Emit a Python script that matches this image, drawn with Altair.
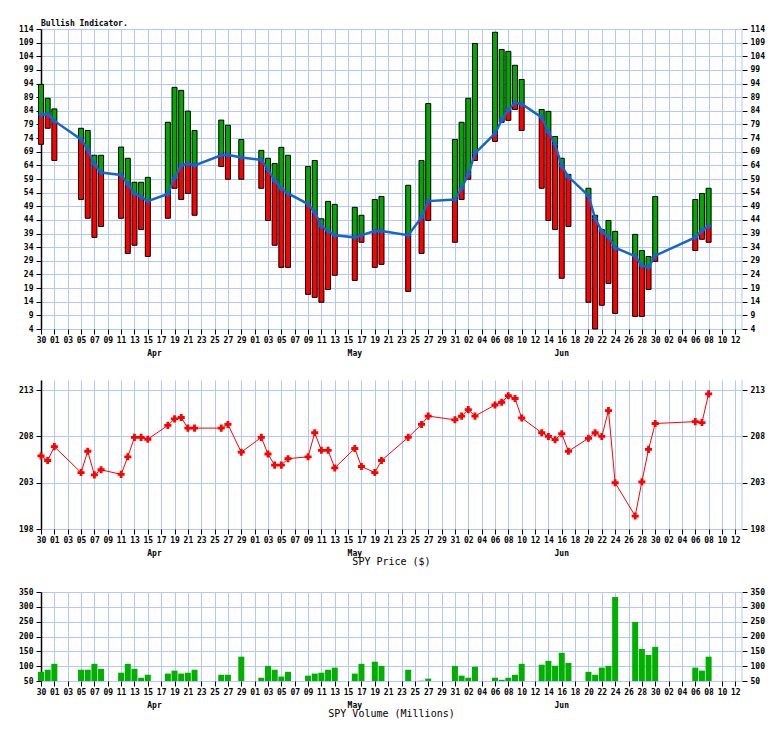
import altair as alt
import pandas as pd

# ---------------- data ----------------
start = "2016-03-30"
dates = [
    "2016-03-30", "2016-03-31", "2016-04-01", "2016-04-05", "2016-04-06", "2016-04-07", "2016-04-08",
    "2016-04-11", "2016-04-12", "2016-04-13", "2016-04-14", "2016-04-15", "2016-04-18", "2016-04-19",
    "2016-04-20", "2016-04-21", "2016-04-22", "2016-04-26", "2016-04-27", "2016-04-29",
    "2016-05-02", "2016-05-03", "2016-05-04", "2016-05-05", "2016-05-06", "2016-05-09", "2016-05-10",
    "2016-05-11", "2016-05-12", "2016-05-13", "2016-05-16", "2016-05-17", "2016-05-19", "2016-05-20",
    "2016-05-24", "2016-05-26", "2016-05-27", "2016-05-31",
    "2016-06-01", "2016-06-02", "2016-06-03", "2016-06-06", "2016-06-07", "2016-06-08", "2016-06-09",
    "2016-06-10", "2016-06-13", "2016-06-14", "2016-06-15", "2016-06-16", "2016-06-17", "2016-06-20",
    "2016-06-21", "2016-06-22", "2016-06-23", "2016-06-24", "2016-06-27", "2016-06-28", "2016-06-29",
    "2016-06-30", "2016-07-06", "2016-07-07", "2016-07-08",
]
ind_low = [71.7, 77.6, 65.8, 51.5, 44.6, 37.6, 41.6, 44.6, 31.7, 34.7, 40.5, 30.6, 44.6, 55.6,
           51.5, 53.7, 45.7, 63.6, 58.9, 58.9,
           55.6, 43.8, 34.7, 26.6, 26.6, 16.7, 15.6, 13.8, 18.5, 23.7, 21.8, 35.8, 26.6, 27.7,
           17.8, 31.7, 43.8, 35.8,
           51.5, 58.9, 65.8, 72.8, 79.8, 80.5, 84.5, 76.8, 55.6, 43.8, 40.5, 22.6, 41.6, 13.8,
           4.0, 12.7, 20.7, 9.7, 8.6, 8.6, 18.5, 28.8, 32.8, 36.9, 35.8]
ind_mid = [82.5, 82.8, 80.3, 73.5, 69.9, 64.4, 61.4, 60.5, 57.2, 53.7, 52.5, 50.9, 53.5, 59.5,
           63.9, 64.7, 64.0, 67.7, 67.9, 66.9,
           66.0, 62.5, 58.4, 55.6, 53.7, 49.8, 46.8, 41.8, 39.9, 38.4, 37.6, 38.4, 39.9, 39.9,
           38.4, 44.9, 50.9, 51.5,
           55.6, 60.7, 68.4, 75.7, 80.6, 84.3, 87.0, 86.5, 81.6, 76.3, 71.7, 63.8, 59.8, 52.9,
           44.6, 39.8, 37.8, 33.8, 30.7, 27.3, 26.6, 30.9, 37.6, 40.0, 41.8]
ind_high = [93.7, 88.6, 84.7, 77.6, 76.8, 67.7, 67.7, 70.7, 66.6, 57.8, 57.8, 59.6, 79.8, 92.6,
            91.5, 83.9, 76.8, 80.6, 78.7, 73.5,
            69.5, 66.6, 64.7, 70.6, 67.7, 63.6, 65.8, 44.4, 50.8, 49.7, 48.6, 45.7, 51.5, 52.6,
            56.7, 65.8, 86.7, 73.5,
            79.8, 88.6, 108.7, 112.8, 106.5, 105.8, 100.7, 95.5, 84.5, 83.8, 74.6, 66.6, 60.7, 55.6,
            45.7, 40.5, 43.8, 39.8, 38.7, 32.8, 30.6, 52.6, 51.5, 53.7, 55.6]
price = [205.9, 205.4, 206.9, 204.1, 206.4, 203.85, 204.4, 203.9, 205.8, 207.9, 207.9, 207.7, 209.2, 209.9,
         210.05, 208.9, 208.9, 208.9, 209.3, 206.3,
         207.9, 206.1, 204.9, 204.9, 205.6, 205.8, 208.4, 206.5, 206.5, 204.6, 206.7, 204.75, 204.1, 205.4,
         207.9, 209.3, 210.2, 209.8,
         210.2, 210.9, 210.2, 211.4, 211.7, 212.4, 212.1, 210.0, 208.4, 208.0, 207.65, 208.3, 206.4, 207.8,
         208.4, 208.0, 210.8, 203.0, 199.4, 203.1, 206.6, 209.4, 209.6, 209.5, 212.6]
volume = [81, 88, 108, 88, 88, 108, 91, 78, 108, 91, 61, 71, 75, 85, 75, 78, 88, 71, 71, 132,
          61, 101, 88, 65, 81, 68, 75, 78, 88, 95, 75, 108, 115, 101, 88, 51, 58, 101,
          68, 61, 98, 61, 54, 61, 71, 108, 105, 118, 101, 145, 111, 81, 71, 95, 101, 333, 249, 158, 138, 165,
          95, 85, 132]
month_names = ["Apr", "May", "Jun"]
month_label_dates = ["2016-04-16", "2016-05-16", "2016-06-16"]
ind_ticks = list(range(4, 115, 5))
price_ticks = [198, 203, 208, 213]
vol_ticks = [50, 100, 150, 200, 250, 300, 350]
ind_title = "Bullish Indicator."
price_title = "SPY Price ($)"
vol_title = "SPY Volume (Millions)"

t0 = pd.Timestamp(start)
df = pd.DataFrame({"date": dates, "low": ind_low, "mid": ind_mid, "high": ind_high,
                   "price": price, "volume": volume})
df["day"] = (pd.to_datetime(df["date"]) - t0).dt.days
months = pd.DataFrame({"label": month_names,
                       "day": (pd.to_datetime(month_label_dates) - t0).days})
last_day = 105
border = pd.DataFrame({"day": [last_day]})

# ---------------- style ----------------
FONT = "DejaVu Sans Mono"
GRID = "#b0c8ff"
RED = "#ff0000"
GREEN = "#00a800"
VGREEN = "#00b000"
BLUE = "#1464d2"
W = 701
tick_days = list(range(0, last_day, 2))
label_expr = "timeFormat(datetime(2016, 2, 30 + datum.value), '%d')"


def xenc():
    return alt.X("day:Q", scale=alt.Scale(domain=[0, last_day], nice=False, zero=False, padding=0),
                 axis=alt.Axis(values=tick_days, labelExpr=label_expr, title=None, grid=True,
                               gridColor=GRID, gridOpacity=1, domain=False, tickColor="black",
                               tickSize=5, labelFont=FONT, labelFontSize=8, labelFontWeight="bold",
                               labelPadding=2, labelColor="black", labelAngle=0,
                               labelOverlap=False, labelFlush=False))


def yenc(field, domain, ticks, orient=None):
    if orient is None:
        ax = None
    else:
        ax = alt.Axis(orient=orient, values=ticks, title=None, grid=(orient == "left"),
                      gridColor=GRID, gridOpacity=1, domain=(orient == "left"),
                      domainColor="black", domainWidth=1.5, tickColor="black", tickSize=5,
                      labelFont=FONT, labelFontSize=8, labelFontWeight="bold",
                      labelColor="black", labelPadding=3)
    return alt.Y(field, scale=alt.Scale(domain=domain, nice=False, zero=False, padding=0), axis=ax)


def frame(h, title):
    """month labels, optional bottom title and right border for a panel"""
    layers = [
        alt.Chart(months).mark_text(font=FONT, fontSize=8, fontWeight="bold", baseline="middle",
                                    align="center", color="black")
        .encode(x=xenc(), y=alt.value(h + 24.5), text="label:N"),
        alt.Chart(border).mark_rule(color=GRID, strokeWidth=1)
        .encode(x=xenc(), y=alt.value(0), y2=alt.value(h)),
    ]
    if title:
        layers.append(
            alt.Chart(pd.DataFrame({"t": [title]}))
            .mark_text(font=FONT, fontSize=10, baseline="middle", align="center", color="black")
            .encode(x=alt.value(W / 2), y=alt.value(h + 33), text="t:N"))
    return layers


# ---------------- top panel ----------------
H1 = 300
D1 = [4, 114]
base1 = alt.Chart(df)
red = base1.mark_bar(size=5, color=RED).encode(
    x=xenc(), y=yenc("low:Q", D1, ind_ticks, "left"), y2="mid:Q")
green = base1.mark_bar(size=5, color=GREEN).encode(
    x=xenc(), y=yenc("mid:Q", D1, ind_ticks), y2="high:Q")
outline = base1.mark_bar(size=5, fill="white", fillOpacity=0, stroke="black", strokeWidth=1).encode(
    x=xenc(), y=yenc("low:Q", D1, ind_ticks), y2="high:Q")
bline = base1.mark_line(color=BLUE, strokeWidth=2.5).encode(
    x=xenc(), y=yenc("mid:Q", D1, ind_ticks))
bpts = base1.mark_point(shape="diamond", filled=True, size=36, color=BLUE, opacity=1).encode(
    x=xenc(), y=yenc("mid:Q", D1, ind_ticks, "right"))
title1 = alt.Chart(pd.DataFrame({"t": [ind_title]})).mark_text(
    font=FONT, fontSize=8, fontWeight="bold", align="left", baseline="middle", color="black").encode(
    x=alt.value(0), y=alt.value(-5), text="t:N")
top = alt.layer(red, green, outline, bline, bpts, title1, *frame(H1, None)).properties(
    width=W, height=H1).resolve_scale(y="shared").resolve_axis(y="independent")

# ---------------- price panel ----------------
H2 = 149
D2 = [198, 214.1]
base2 = alt.Chart(df)
pline = base2.mark_line(color=RED, strokeWidth=1).encode(
    x=xenc(), y=yenc("price:Q", D2, price_ticks, "left"))
ppts = base2.mark_point(shape="cross", filled=True, size=50, color=RED, opacity=1).encode(
    x=xenc(), y=yenc("price:Q", D2, price_ticks, "right"))
mid = alt.layer(pline, ppts, *frame(H2, price_title)).properties(
    width=W, height=H2).resolve_scale(y="shared").resolve_axis(y="independent")

# ---------------- volume panel ----------------
H3 = 89
D3 = [50, 350]
base3 = alt.Chart(df)
vbars = base3.mark_bar(size=6, color=VGREEN).encode(
    x=xenc(), y=yenc("volume:Q", D3, vol_ticks, "left"), y2=alt.datum(50))
vright = base3.mark_bar(size=6, color=VGREEN, opacity=0).encode(
    x=xenc(), y=yenc("volume:Q", D3, vol_ticks, "right"), y2=alt.datum(50))
bottom = alt.layer(vbars, vright, *frame(H3, vol_title)).properties(
    width=W, height=H3).resolve_scale(y="shared").resolve_axis(y="independent")

chart = alt.vconcat(top, mid, bottom, spacing=21).properties(
    padding={"left": 10, "top": 12, "right": 0, "bottom": 0},
    background="white",
).configure_view(stroke=None)

chart.save("out.html", embed_options={"renderer": "svg", "actions": False})
